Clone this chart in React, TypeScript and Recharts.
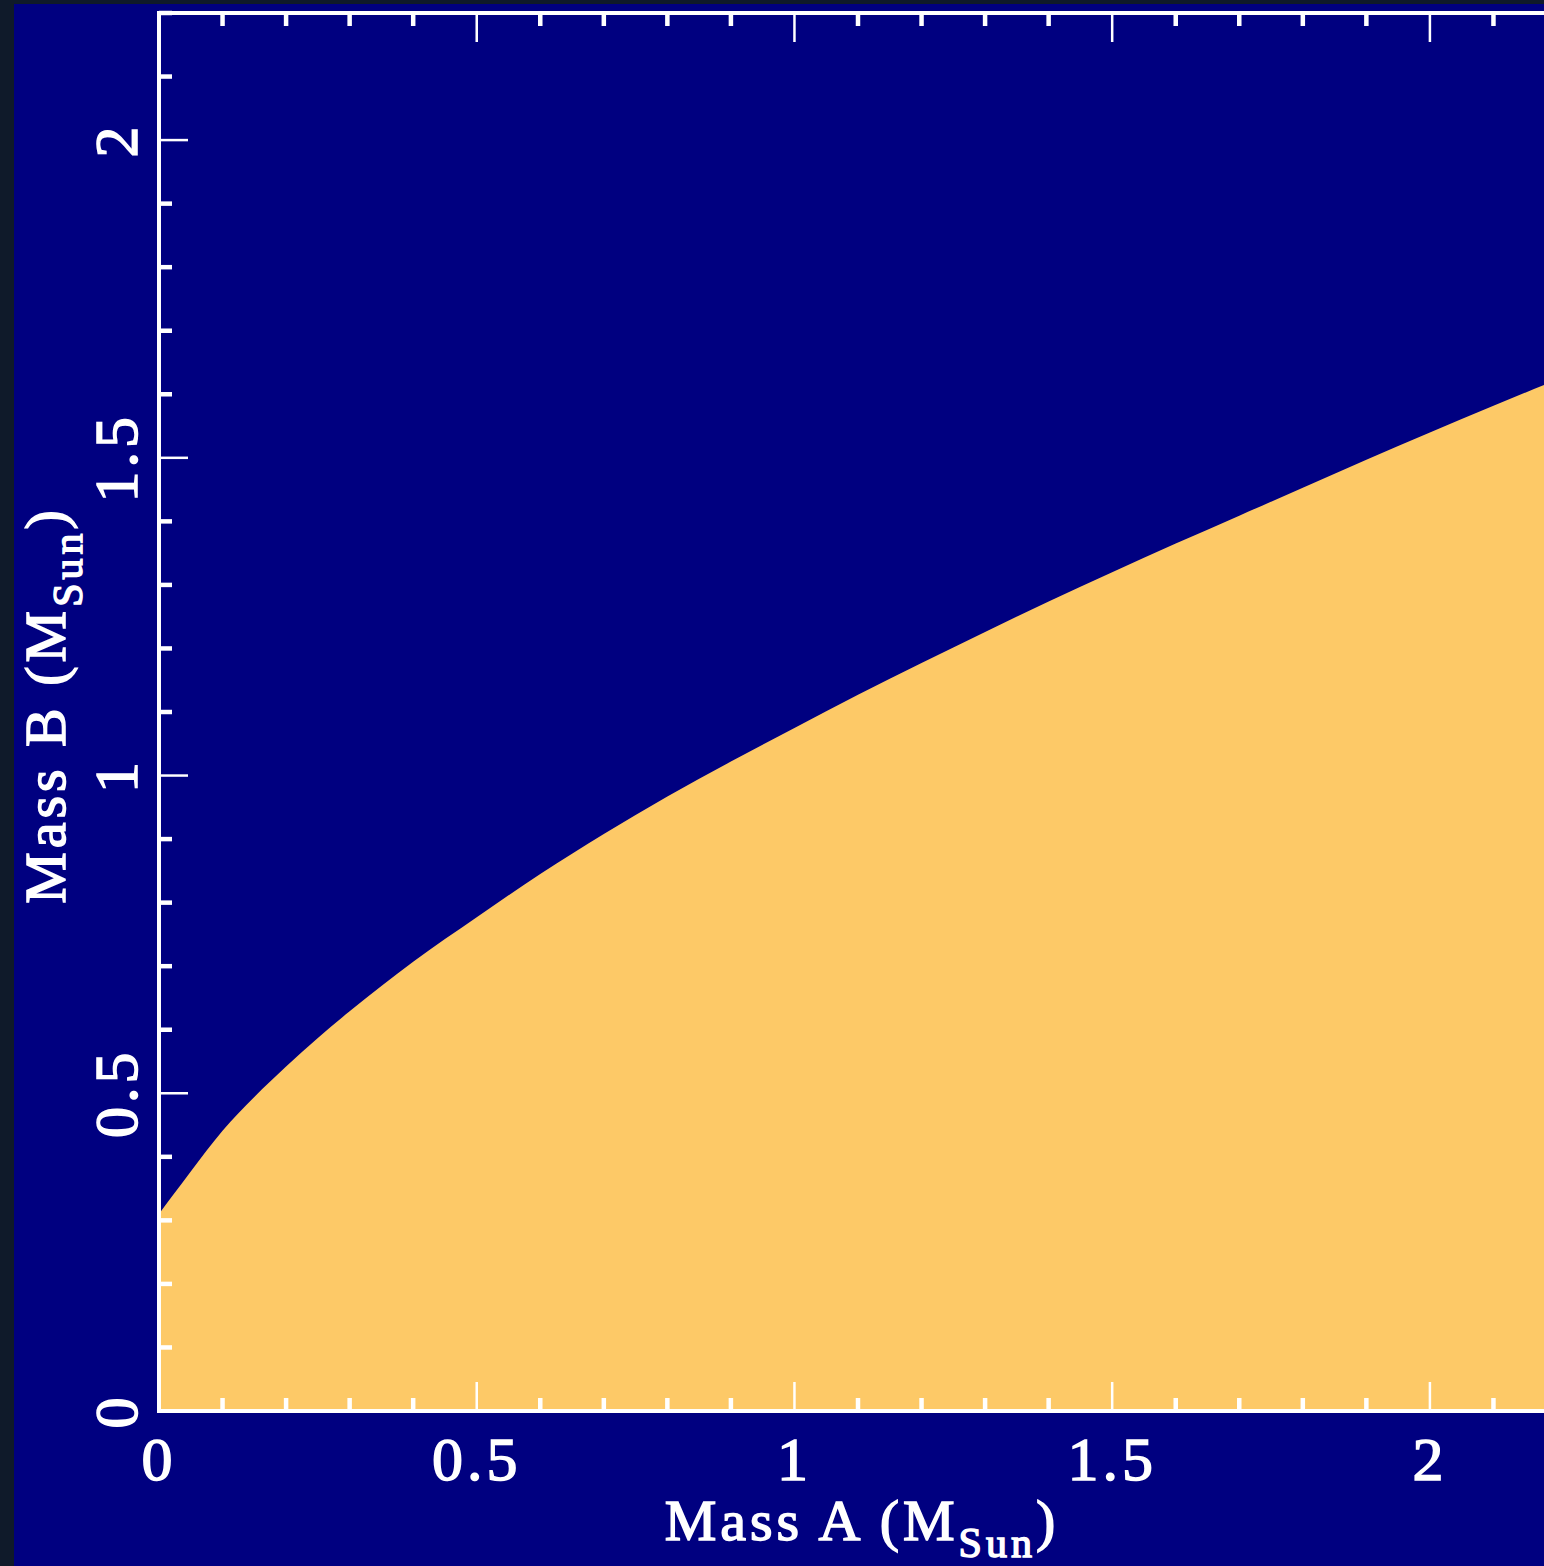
import { ComposedChart, Area, XAxis, YAxis, Label } from 'recharts';

// boundary of the allowed region (Mass A -> Mass B, solar masses)
const massA = [0, 0.02, 0.05, 0.1, 0.15, 0.2, 0.25, 0.3, 0.4, 0.5, 0.6, 0.7, 0.8, 0.9, 1.0, 1.1, 1.2, 1.3, 1.4, 1.5, 1.6, 1.7, 1.8, 1.9, 2.0, 2.1, 2.2];
const massB = [0.31, 0.337, 0.377, 0.441, 0.494, 0.542, 0.587, 0.629, 0.707, 0.777, 0.845, 0.908, 0.967, 1.022, 1.075, 1.127, 1.177, 1.226, 1.274, 1.32, 1.365, 1.409, 1.453, 1.497, 1.54, 1.582, 1.623];

const allTicks = [0, 0.1, 0.2, 0.3, 0.4, 0.5, 0.6, 0.7, 0.8, 0.9, 1, 1.1, 1.2, 1.3, 1.4, 1.5, 1.6, 1.7, 1.8, 1.9, 2, 2.1, 2.2];
const majorTicks = [0, 0.5, 1, 1.5, 2];
const axisMax = 2.2;

const xTitle = 'Mass A (M';
const yTitle = 'Mass B (M';
const subscript = 'Sun';

const data = massA.map((a, i) => ({ a, b: massB[i] }));

const NAVY = '#000080';
const EDGE = '#0f1a2a';
const FILL = '#fdc967';
const INK = '#ffffff';
const FONT = '"Liberation Serif", "DejaVu Serif", serif';

const isMajor = (v: number) => majorTicks.some((m) => Math.abs(m - v) < 1e-6);

const MINOR_LEN = 13;
const MAJOR_LEN = 29;

const textStyle = {
  fill: INK,
  stroke: INK,
  strokeWidth: 1.5,
  fontFamily: FONT,
};

function makeTick(side: 'bottom' | 'top' | 'left' | 'right') {
  return (props: any) => {
    const { x, y, payload } = props;
    const v = payload.value as number;
    const major = isMajor(v);
    const len = major ? MAJOR_LEN : MINOR_LEN;
    const sw = major ? 2.5 : 4.5;
    let x2 = x;
    let y2 = y;
    if (side === 'bottom') y2 = y - len;
    if (side === 'top') y2 = y + len;
    if (side === 'left') x2 = x + len;
    if (side === 'right') x2 = x - len;
    return (
      <g>
        <line x1={x} y1={y} x2={x2} y2={y2} stroke={INK} strokeWidth={sw} />
        {major && side === 'bottom' && (
          <text x={x} y={y + 69} textAnchor="middle" fontSize={62} letterSpacing={4} {...textStyle}>
            {String(v)}
          </text>
        )}
        {major && side === 'left' && (
          <text
            transform={`translate(${x - 22}, ${y}) rotate(-90)`}
            textAnchor="middle"
            fontSize={62}
            letterSpacing={4}
            {...textStyle}
          >
            {String(v)}
          </text>
        )}
      </g>
    );
  };
}

const frame = { stroke: INK, strokeWidth: 4, strokeLinecap: 'square' as const };

function XTitle(props: any) {
  const vb = props.viewBox || { x: 159, y: 1411, width: 1398, height: 100 };
  return (
    <text x={vb.x + vb.width / 2 + 4} y={vb.y + 129} textAnchor="middle" fontSize={58} letterSpacing={4} {...textStyle}>
      {xTitle}
      <tspan fontSize={42} dy={17}>{subscript}</tspan>
      <tspan fontSize={58} dy={-17}>)</tspan>
    </text>
  );
}

function YTitle(props: any) {
  const vb = props.viewBox || { x: 59, y: 13, width: 100, height: 1398 };
  const cx = vb.x + 6;
  const cy = vb.y + vb.height / 2 - 7;
  return (
    <text transform={`translate(${cx}, ${cy}) rotate(-90)`} textAnchor="middle" fontSize={58} letterSpacing={4} {...textStyle}>
      {yTitle}
      <tspan fontSize={42} dy={17}>{subscript}</tspan>
      <tspan fontSize={58} dy={-17}>)</tspan>
    </text>
  );
}

export default function App() {
  return (
    <div style={{ position: 'absolute', left: 0, top: 0, width: 1544, height: 1566, overflow: 'hidden', background: EDGE }}>
      <div style={{ position: 'absolute', left: 14, top: 4, right: 0, bottom: 0, background: NAVY }} />
      <div style={{ position: 'absolute', left: 0, top: 0 }}>
        <ComposedChart width={1600} height={1566} data={data} margin={{ top: 12, right: 23, bottom: 55, left: 59 }}>
          <Area
            type="monotone"
            dataKey="b"
            xAxisId="bottom"
            yAxisId="left"
            stroke="none"
            fill={FILL}
            fillOpacity={1}
            isAnimationActive={false}
          />
          <XAxis
            xAxisId="bottom"
            dataKey="a"
            type="number"
            domain={[0, axisMax]}
            ticks={allTicks}
            interval={0}
            height={100}
            tickSize={0}
            tickMargin={0}
            tickLine={false}
            axisLine={frame}
            tick={makeTick('bottom')}
          >
            <Label content={XTitle} />
          </XAxis>
          <XAxis
            xAxisId="top"
            orientation="top"
            dataKey="a"
            type="number"
            domain={[0, axisMax]}
            ticks={allTicks}
            interval={0}
            height={1}
            tickSize={0}
            tickMargin={0}
            tickLine={false}
            axisLine={frame}
            tick={makeTick('top')}
          />
          <YAxis
            yAxisId="left"
            type="number"
            domain={[0, axisMax]}
            ticks={allTicks}
            interval={0}
            width={100}
            tickSize={0}
            tickMargin={0}
            tickLine={false}
            axisLine={frame}
            tick={makeTick('left')}
          >
            <Label content={YTitle} />
          </YAxis>
          <YAxis
            yAxisId="right"
            orientation="right"
            type="number"
            domain={[0, axisMax]}
            ticks={allTicks}
            interval={0}
            width={20}
            tickSize={0}
            tickMargin={0}
            tickLine={false}
            axisLine={frame}
            tick={makeTick('right')}
          />
        </ComposedChart>
      </div>
    </div>
  );
}
